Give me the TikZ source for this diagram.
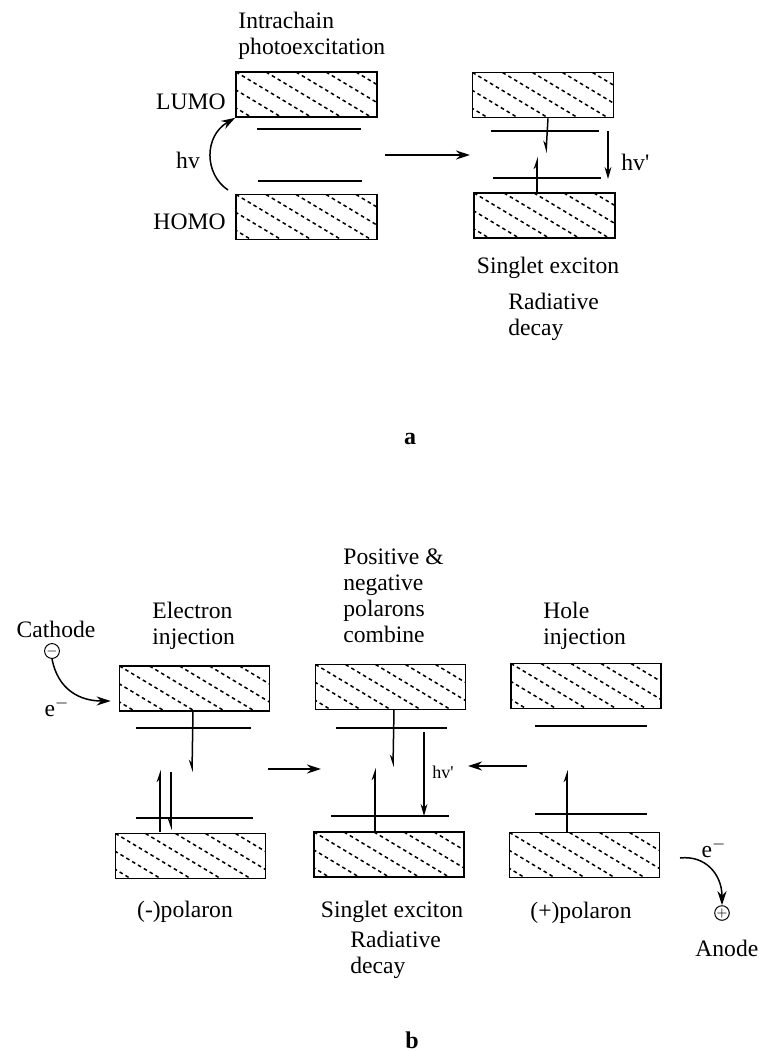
\documentclass[tikz,border=0pt]{standalone}
\usepackage{fontspec}
\setmainfont{Liberation Serif}[Ligatures=TeXOff]
\usetikzlibrary{arrows.meta, positioning, calc}
\tikzset{
  >=Stealth,
  band/.style    = {draw, line width=0.8pt, minimum width=70.5pt,
                    minimum height=22.5pt, inner sep=0pt,
                    path picture={
                      \foreach \h in {-3,...,5}
                        \draw[line width=0.75pt, dash pattern=on 1.8pt off 1.6pt]
                          ($(path picture bounding box.north west)+(\h*15pt,0pt)$)
                          -- ++(38pt,-22.8pt);}},
  wideband/.style = {band, minimum width=75pt},
  level/.style   = {line width=0.8pt},
  arrow/.style   = {-{Stealth[length=7pt, width=4.5pt]}, line width=0.75pt},
  photon/.style  = {-{Stealth[length=6pt, width=3.4pt]}, line width=0.75pt},
  spinup/.style  = {-{Stealth[harpoon, length=5pt, width=3.4pt]}, line width=0.75pt},
  spindn/.style  = {-{Stealth[harpoon, swap, length=5pt, width=3.4pt]}, line width=0.75pt},
  txt/.style     = {font=\fontsize{11.8}{13}\selectfont, align=left, inner sep=0pt},
  small/.style   = {font=\fontsize{9}{10}\selectfont, inner sep=0pt},
  tag/.style     = {font=\bfseries\fontsize{12}{12}\selectfont, inner sep=0pt},
  pole/.style    = {draw, circle, line width=0.5pt, minimum size=5pt, inner sep=0pt,
                    font=\fontsize{6}{6}\selectfont},
}

\begin{document}
\begin{tikzpicture}[x=0.5pt, y=-0.5pt]
  \useasboundingbox (0,0) rectangle (762,1051);

  % ================= (a) photoexcitation =================
  \node[band] (a1top) at (306.5,94.5) {};
  \node[band] (a1bot) at (306.5,217)  {};
  \node[band] (a2top) at (543,95)     {};
  \node[band] (a2bot) at (544.5,215.5) {};

  \node[txt, anchor=north west] (intra) at (238,12) {Intrachain\\photoexcitation};
  \node[txt, anchor=east] (lumo) at (226,102) {LUMO};
  \node[txt, anchor=east] (homo) at (226,222) {HOMO};
  \node[txt] (hva) at (188,160) {hv};

  \draw[level] (257,129) -- (361,129);
  \draw[level] (258,181) -- (362,181);
  \draw[arrow] (228,190) .. controls (204,174) and (204,136) .. (a1top.south west);

  \coordinate (amid1) at (385,155);
  \coordinate (amid2) at (470,155);
  \draw[arrow] (amid1) -- (amid2);

  \draw[level] (491,131) -- (599,131);
  \draw[level] (493,178) -- (601,178);
  \draw[spindn] ($(a2top.south)+(5,0)$) -- (546,153);
  \draw[spinup] ($(a2bot.north)+(-7.5,0)$) -- (537,157);
  \draw[photon] (608,131) -- (608,179);
  \node[txt, anchor=west] (hvpa) at (621,162) {hv'};

  \node[txt] (singa) at (548,268) {Singlet exciton};
  \node[txt, anchor=north west] (rada) at (508,293) {Radiative\\decay};

  \node[tag] (taga) at (410,439) {a};

  % ================= (b) electroluminescence =================
  \node[wideband] (b1top) at (194.5,688.5) {};
  \node[wideband] (b1bot) at (190.5,856)   {};
  \node[wideband] (b2top) at (390.5,687)   {};
  \node[wideband] (b2bot) at (389,854.5)   {};
  \node[wideband] (b3top) at (586,686)     {};
  \node[wideband] (b3bot) at (584.5,855)   {};

  \node[txt, anchor=north west] (elinj) at (152,602) {Electron\\injection};
  \node[txt, anchor=north west] (comb)  at (343,548) {Positive \&\\negative\\polarons\\combine};
  \node[txt, anchor=north west] (hoinj) at (543,602) {Hole\\injection};

  % cathode side
  \node[txt] (cath) at (56,629) {Cathode};
  \node[pole] (minus) at (52,651) {$-$};
  \node[txt] (ecath) at (57,707) {e$^{-}$};
  \draw[arrow] (minus.south) .. controls (58,690) and (80,701) .. ($(b1top.west)+(-8,12.5)$);

  % (-) polaron
  \draw[level] (136,728) -- (251,728);
  \draw[level] (136,818) -- (253,818);
  \draw[spindn] (193,711) -- (192,772);
  \draw[spinup] (160,832) -- (160,770);
  \draw[spindn] (171,772) -- (171,830);

  \coordinate (bl1) at (268,769);
  \coordinate (bl2) at (321,769);
  \draw[arrow] (bl1) -- (bl2);

  % singlet exciton
  \draw[level] (336,728) -- (447,728);
  \draw[level] (331,816) -- (449,816);
  \draw[spindn] (394,710) -- (393,767);
  \draw[spinup] (375,832) -- (375,768);
  \draw[photon] (424,732) -- (424,816);
  \node[small, anchor=west] (hvpb) at (432,772) {hv'};

  \coordinate (br1) at (527,766);
  \coordinate (br2) at (468,766);
  \draw[arrow] (br1) -- (br2);

  % (+) polaron
  \draw[level] (535,726) -- (647,726);
  \draw[level] (535,814) -- (647,814);
  \draw[spinup] (567,832) -- (567,770);

  % anode side
  \node[txt] (eanode) at (714,848) {e$^{-}$};
  \node[pole] (plus) at (722,913) {$+$};
  \node[txt, anchor=west] (anode) at (695,948) {Anode};
  \draw[arrow] (680,858) .. controls (705,855) and (722,874) .. (plus.north);

  \node[txt] (pneg)  at (185,912) {(-)polaron};
  \node[txt] (singb) at (392,912) {Singlet exciton};
  \node[txt] (ppos)  at (581,913) {(+)polaron};
  \node[txt, anchor=north west] (radb) at (350,931) {Radiative\\decay};

  \node[tag] (tagb) at (412,1040) {b};
\end{tikzpicture}
\end{document}
